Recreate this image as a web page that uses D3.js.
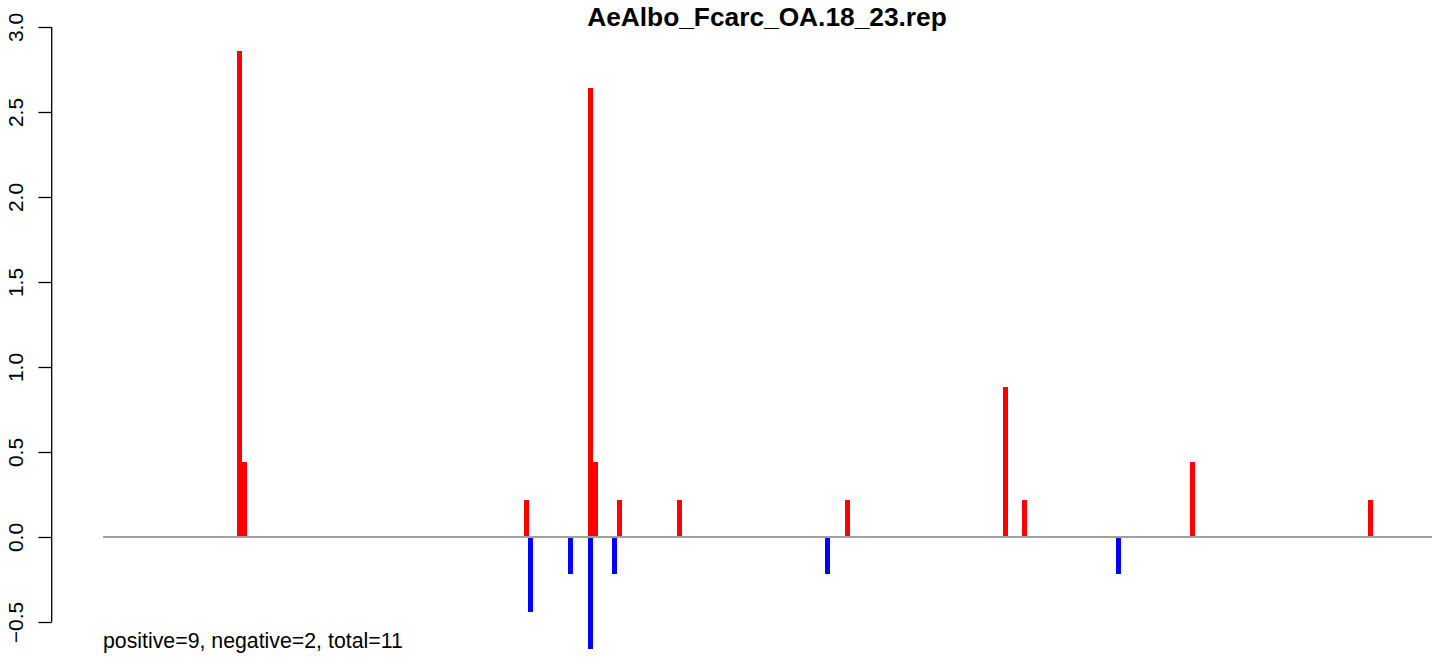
<!DOCTYPE html>
<html>
<head>
<meta charset="utf-8">
<script src="https://cdn.jsdelivr.net/npm/d3@7"></script>
<style>
  html, body { margin: 0; padding: 0; background: #ffffff; }
  svg { display: block; }
  text { font-family: "Liberation Sans", Arial, Helvetica, sans-serif; fill: #000; }
</style>
</head>
<body>
<svg id="chart" width="1444" height="660"></svg>
<script>
// ---- data ----
const chartTitle = "AeAlbo_Fcarc_OA.18_23.rep";
const nBins = 272;                       // number of bins on the x axis
// positive (red) bars: bin position and value
const posBins = [27.4, 28.4, 86.2, 99.3, 100.3, 105.2, 117.5, 151.9, 184.2, 188.1, 222.5, 258.9];
const posValues = [2.86, 0.44, 0.22, 2.64, 0.44, 0.22, 0.22, 0.22, 0.88, 0.22, 0.44, 0.22];
// negative (blue) bars
const negBins = [87.0, 95.2, 99.3, 104.2, 147.8, 207.3];
const negValues = [-0.44, -0.22, -0.66, -0.22, -0.22, -0.22];
const yTicks = [-0.5, 0, 0.5, 1, 1.5, 2, 2.5, 3];
const footnote = "positive=9, negative=2, total=11";

const positives = posBins.map((b, i) => ({ bin: b, value: posValues[i] }));
const negatives = negBins.map((b, i) => ({ bin: b, value: negValues[i] }));

// ---- layout ----
const svg = d3.select("#chart");
const x = d3.scaleLinear().domain([0, nBins]).range([103, 1432]);
const y = d3.scaleLinear().domain([-0.5, 3.0]).range([622, 27]);
const axisX = 51.7;

// bars
function drawBars(data, color) {
  svg.append("g")
    .attr("shape-rendering", "crispEdges")
    .selectAll("rect")
    .data(data)
    .join("rect")
    .attr("x", d => x(d.bin))
    .attr("width", d => x(d.bin + 1) - x(d.bin))
    .attr("y", d => y(Math.max(0, d.value)))
    .attr("height", d => Math.abs(y(d.value) - y(0)))
    .attr("fill", color);
}
drawBars(positives, "#ff0000");
drawBars(negatives, "#0000ff");

// zero line
svg.append("line")
  .attr("x1", x(0)).attr("x2", x(nBins))
  .attr("y1", y(0)).attr("y2", y(0))
  .attr("stroke", "#a0a0a0")
  .attr("stroke-width", 2);

// y axis
const yAxis = d3.axisLeft(y)
  .tickValues(yTicks)
  .tickSize(13.3)
  .tickPadding(0)
  .tickFormat(d => d3.format(".1f")(d).replace("-", "\u2212"));
const gy = svg.append("g")
  .attr("transform", `translate(${axisX},0)`)
  .call(yAxis);
gy.select(".domain")
  .attr("d", `M0,${y(3.0)}V${y(-0.5)}`)
  .attr("stroke", "#000")
  .attr("stroke-width", 1.3);
gy.selectAll(".tick line").attr("stroke", "#000").attr("stroke-width", 1.3);
gy.selectAll(".tick text")
  .attr("x", null).attr("dy", null)
  .attr("transform", `translate(${23 - axisX},0) rotate(-90)`)
  .attr("text-anchor", "middle")
  .attr("font-size", 21)
  .style("font-family", "'Liberation Sans', Arial, sans-serif")
  .attr("fill", "#000");

// title
svg.append("text")
  .attr("x", 767)
  .attr("y", 26)
  .attr("text-anchor", "middle")
  .attr("font-size", 26.3)
  .attr("font-weight", "bold")
  .text(chartTitle);

// footnote
svg.append("text")
  .attr("x", 103)
  .attr("y", 648)
  .attr("font-size", 21.3)
  .text(footnote);
</script>
</body>
</html>
